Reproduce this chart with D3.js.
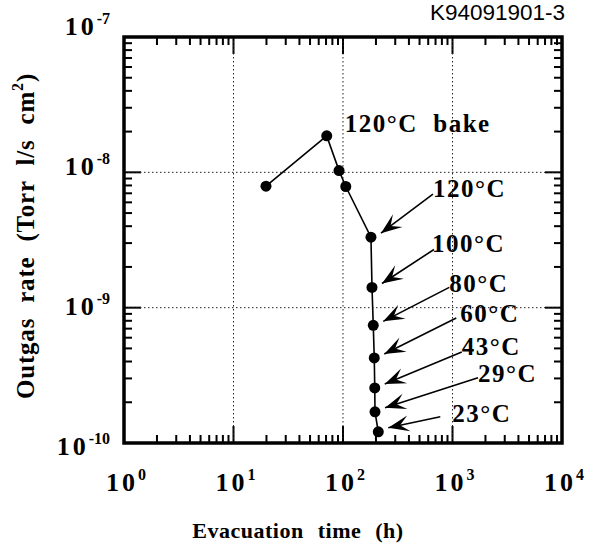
<!DOCTYPE html>
<html>
  <head>
    <script src="https://d3js.org/d3.v7.min.js"></script>
    <style>
      body { margin: 0; background: #fff; }
      text { font-family: "Liberation Serif", "Times New Roman", serif; font-weight: bold; fill: #000; }
    </style>
  </head>
  <body>
    <div id="chart"></div>
    <script>
      // evacuation time (h) and outgas rate (Torr l/s cm2)
      const hours = [19.8, 71, 92, 106, 180, 184, 189, 193, 195, 196, 210];
      const rates = [7.9e-9, 1.86e-8, 1.03e-8, 7.86e-9, 3.32e-9, 1.41e-9, 7.4e-10, 4.25e-10, 2.55e-10, 1.7e-10, 1.21e-10];

      // temperature steps, annotating points 4..10
      const tempLabels = ["120°C", "100°C", "80°C", "60°C", "43°C", "29°C", "23°C"];
      const firstTempIndex = 4;
      const bakeLabel = "120°C  bake";
      const bakeIndex = 1;

      const xTickExps = [0, 1, 2, 3, 4];
      const yTickExps = [-10, -9, -8, -7];
      const minorSteps = [1, 2, 3, 4, 5, 6, 7, 8, 9];

      // label placement relative to its point: [dx, dy, arrowStartDx, arrowStartDy]
      const labelLayout = [
        [62, -40, 0, -3],
        [60, -35, 2, -3],
        [76, -33, 0, -5],
        [86, -36, -4, -4],
        [87, -33, 0, -3],
        [103, -30, 0, -4],
        [74, -10, -12, -5],
      ];

      const pLeft = 124, pRight = 562, pTop = 37, pBottom = 443;

      const svg = d3.select("#chart").append("svg").attr("width", 600).attr("height", 549);

      const x = d3.scaleLog().domain([1, 1e4]).range([pLeft, pRight]);
      const y = d3.scaleLog().domain([1e-10, 1e-7]).range([pBottom, pTop]);
      // tick labels in the scan sit on a slightly wider spacing than the grid
      const yLab = d3.scaleLog().domain([1e-10, 1e-7]).range([455, 35]);

      // inward ticks first, same way as the test that rendered
      const logSteps = (exps) =>
        exps.slice(0, -1).flatMap((e) => minorSteps.map((m) => ({ v: m * Math.pow(10, e), major: m === 1 })));
      const xTicks = logSteps(xTickExps).filter((t) => t.v > 1.5);
      const yTicks = logSteps(yTickExps).filter((t) => t.v > 1.5e-10);
      const tLen = (t) => (t.major ? 17 : 8);

      svg.append("g").selectAll("rect")
        .data(xTicks)
        .join("rect")
        .attr("x", (t) => x(t.v) - 1)
        .attr("y", (t) => pBottom - tLen(t))
        .attr("width", 2)
        .attr("height", (t) => tLen(t))
        .attr("fill", "black");
      svg.append("g").selectAll("rect")
        .data(xTicks)
        .join("rect")
        .attr("x", (t) => x(t.v) - 1)
        .attr("y", pTop)
        .attr("width", 2)
        .attr("height", (t) => tLen(t))
        .attr("fill", "black");
      svg.append("g").selectAll("rect")
        .data(yTicks)
        .join("rect")
        .attr("x", pLeft)
        .attr("y", (t) => y(t.v) - 1)
        .attr("width", (t) => tLen(t))
        .attr("height", 2)
        .attr("fill", "black");
      svg.append("g").selectAll("rect")
        .data(yTicks)
        .join("rect")
        .attr("x", (t) => pRight - tLen(t))
        .attr("y", (t) => y(t.v) - 1)
        .attr("width", (t) => tLen(t))
        .attr("height", 2)
        .attr("fill", "black");

      // dotted decade grid
      const grid = svg.append("g").attr("stroke", "#222").attr("stroke-width", 1).attr("stroke-dasharray", "1.5,2.5");
      grid.selectAll("line.gx")
        .data(xTickExps.slice(1, -1))
        .join("line")
        .attr("class", "gx")
        .attr("x1", (d) => x(Math.pow(10, d)))
        .attr("x2", (d) => x(Math.pow(10, d)))
        .attr("y1", pTop)
        .attr("y2", pBottom);
      grid.selectAll("line.gy")
        .data(yTickExps.slice(1, -1))
        .join("line")
        .attr("class", "gy")
        .attr("x1", pLeft)
        .attr("x2", pRight)
        .attr("y1", (d) => y(Math.pow(10, d)))
        .attr("y2", (d) => y(Math.pow(10, d)));

      svg.append("rect")
        .attr("x", pLeft)
        .attr("y", pTop)
        .attr("width", pRight - pLeft)
        .attr("height", pBottom - pTop)
        .attr("fill", "none")
        .attr("stroke", "#000")
        .attr("stroke-width", 3.5);

      // tick labels
      const xl = svg.append("g").selectAll("text")
        .data(xTickExps)
        .join("text")
        .attr("x", (d) => x(Math.pow(10, d)) + 2)
        .attr("y", 491)
        .attr("text-anchor", "middle");
      xl.append("tspan").attr("font-size", 26).attr("letter-spacing", 3).text("10");
      xl.append("tspan").attr("font-size", 16).attr("dy", -11).text((d) => d);

      const yl = svg.append("g").selectAll("text")
        .data(yTickExps)
        .join("text")
        .attr("x", 110)
        .attr("y", (d) => yLab(Math.pow(10, d)))
        .attr("text-anchor", "end");
      yl.append("tspan").attr("font-size", 26).attr("letter-spacing", 3).text("10");
      yl.append("tspan").attr("font-size", 16).attr("dy", -11).text((d) => d);

      // axis titles
      svg.append("text")
        .attr("x", 298)
        .attr("y", 538)
        .attr("text-anchor", "middle")
        .attr("font-size", 22)
        .attr("word-spacing", 8)
        .attr("letter-spacing", 0.5)
        .text("Evacuation time (h)");

      const yt = svg.append("text")
        .attr("transform", "translate(34,236) rotate(-90)")
        .attr("text-anchor", "middle")
        .attr("font-size", 25)
        .attr("word-spacing", 8)
        .attr("letter-spacing", 0.8);
      yt.append("tspan").text("Outgas rate (Torr l/s cm");
      yt.append("tspan").attr("font-size", 16).attr("dy", -11).text("2");
      yt.append("tspan").attr("dy", 11).text(")");

      svg.append("text")
        .attr("x", 565)
        .attr("y", 20)
        .attr("text-anchor", "end")
        .style("font-family", "'Liberation Sans', Arial, sans-serif")
        .style("font-weight", "normal")
        .attr("font-size", 22.5)
        .text("K94091901-3");

      // data line and markers
      const pts = hours.map((h, i) => [h, rates[i]]);
      svg.append("path")
        .datum(pts)
        .attr("fill", "none")
        .attr("stroke", "#000")
        .attr("stroke-width", 1.6)
        .attr("d", d3.line().x((d) => x(d[0])).y((d) => y(d[1])));
      svg.append("g").selectAll("circle")
        .data(pts)
        .join("circle")
        .attr("cx", (d) => x(d[0]))
        .attr("cy", (d) => y(d[1]))
        .attr("r", 5.5)
        .attr("fill", "#000");

      // bake label
      svg.append("text")
        .attr("x", x(hours[bakeIndex]) + 18)
        .attr("y", y(rates[bakeIndex]) - 4)
        .attr("font-size", 25)
        .attr("letter-spacing", 1.5)
        .style("white-space", "pre")
        .text(bakeLabel);

      // temperature labels with arrows
      const notes = tempLabels.map((t, k) => {
        const i = firstTempIndex + k;
        const px = x(hours[i]), py = y(rates[i]);
        const [dx, dy, sdx, sdy] = labelLayout[k];
        return { t, lx: px + dx, ly: py + dy, sx: px + dx + sdx, sy: py + dy + sdy, tx: px + 10, ty: py - 4 };
      });

      const ann = svg.append("g");
      ann.selectAll("line")
        .data(notes)
        .join("line")
        .attr("x1", (d) => d.sx)
        .attr("y1", (d) => d.sy)
        .attr("x2", (d) => d.tx)
        .attr("y2", (d) => d.ty)
        .attr("stroke", "#000")
        .attr("stroke-width", 1.6);
      ann.selectAll("path")
        .data(notes)
        .join("path")
        .attr("d", "M0,0 L-21,-8 L-12,0 L-21,8 Z")
        .attr("fill", "#000")
        .attr("transform", (d) => {
          const a = (Math.atan2(d.ty - d.sy, d.tx - d.sx) * 180) / Math.PI;
          return `translate(${d.tx},${d.ty}) rotate(${a})`;
        });
      ann.selectAll("text")
        .data(notes)
        .join("text")
        .attr("x", (d) => d.lx)
        .attr("y", (d) => d.ly)
        .attr("font-size", 25)
        .attr("letter-spacing", 1.5)
        .text((d) => d.t);
    </script>
  </body>
</html>
